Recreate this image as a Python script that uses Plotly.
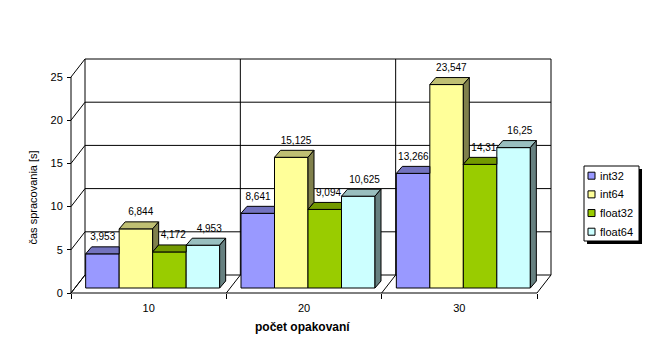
import plotly.graph_objects as go

# ---------------- data ----------------
categories = ["10", "20", "30"]
series_names = ["int32", "int64", "float32", "float64"]
int32 = [3.953, 8.641, 13.266]
int64 = [6.844, 15.125, 23.547]
float32 = [4.172, 9.094, 14.31]
float64 = [4.953, 10.625, 16.25]
y_tick_values = [0, 5, 10, 15, 20, 25]
y_title = "čas spracovania [s]"
x_title = "počet opakovaní"

series_values = [int32, int64, float32, float64]

# ---------------- style / geometry (pixels) ----------------
W, H = 649, 361
FRONT_X0 = 71          # front-left corner of the 3D box
CAT_PX = 155.33        # width of one category on the front edge
ZERO_Y = 293           # pixel row of value 0 on the front edge
UNIT_PX = 8.64         # pixels per value unit
WALL_DX, WALL_DY = 14, 18      # depth of the 3D box
BAR_OFF_DX, BAR_OFF_DY = 4, 5  # bars' front face depth offset
BAR_DX, BAR_DY = 6, 7          # bar depth
BAR_W_PX = 33.5
LABEL_GAP_PX = 1.5
LABEL_DX_PX = [0.5, 5, 4, 6.5]  # label shift (per series) from the bar's front centre
PAD = 3
FONT = "Liberation Sans, Arial, sans-serif"

front_colors = ["#9999FF", "#FFFF99", "#99CC00", "#CCFFFF"]


def shade(hex_color, f):
    h = hex_color.lstrip("#")
    r, g, b = (int(h[i:i + 2], 16) for i in (0, 2, 4))
    return "rgb(%d,%d,%d)" % (round(r * f), round(g * f), round(b * f))


top_colors = [shade(c, 0.75) for c in front_colors]
side_colors = [shade(c, 0.5) for c in front_colors]

n_cat = len(categories)
y_top = y_tick_values[-1]

box_right = FRONT_X0 + n_cat * CAT_PX + WALL_DX
box_top = ZERO_Y - y_top * UNIT_PX - WALL_DY
ML = FRONT_X0 - PAD
MR = W - box_right - PAD
MT = box_top - PAD
MB = H - ZERO_Y - PAD
PW = W - ML - MR
PH = H - MT - MB


def ux(p):
    return p / CAT_PX


def uy(p):
    return p / UNIT_PX


def paper_x(px):
    return (px - ML) / PW


def paper_y(py):
    return (H - MB - py) / PH


x_range = [-ux(PAD), ux(box_right + PAD - FRONT_X0)]
y_range = [-uy(PAD), uy(ZERO_Y - box_top + PAD)]

wdx, wdy = ux(WALL_DX), uy(WALL_DY)
bdx, bdy = ux(BAR_DX), uy(BAR_DY)
base = uy(BAR_OFF_DY)
bw = ux(BAR_W_PX)
n_ser = len(series_names)
cluster_left = ux(BAR_OFF_DX) + (1 - n_ser * bw) / 2

fig = go.Figure()
shapes = []


def line(x0, y0, x1, y1, layer="below"):
    shapes.append(dict(type="line", xref="x", yref="y", x0=x0, y0=y0, x1=x1, y1=y1,
                       line=dict(color="black", width=1), layer=layer))


# ---- walls / floor ----
for v in y_tick_values:
    line(wdx, v + wdy, n_cat + wdx, v + wdy)      # back wall gridlines
    line(0, v, wdx, v + wdy)                      # left wall diagonals
for k in range(n_cat + 1):
    line(k + wdx, wdy, k + wdx, y_top + wdy)      # back wall verticals
    line(k, 0, k + wdx, wdy)                      # floor diagonals
line(0, 0, 0, y_top)                              # front value axis
line(0, 0, n_cat, 0)                              # front category axis


def poly(pts, color):
    path = "M " + " L ".join("%.5f,%.5f" % p for p in pts) + " Z"
    shapes.append(dict(type="path", xref="x", yref="y", path=path,
                       fillcolor=color, line=dict(color="black", width=1), layer="above"))


def fmt(v):
    return ("%g" % v).replace(".", ",")


# ---- bars ----
for j, (name, vals) in enumerate(zip(series_names, series_values)):
    xs = [i + cluster_left + j * bw + bw / 2 for i in range(n_cat)]
    fig.add_trace(go.Bar(
        x=xs, y=vals, base=base, width=bw, name=name, showlegend=False,
        marker=dict(color=front_colors[j], line=dict(color="black", width=1)),
        hoverinfo="skip"))
    # label carrier (spans the top face height) -> text sits above its back edge
    fig.add_trace(go.Bar(
        x=[x + ux(LABEL_DX_PX[j]) for x in xs], y=[bdy + uy(LABEL_GAP_PX)] * n_cat,
        base=[base + v for v in vals], width=bw, showlegend=False,
        marker=dict(color="rgba(0,0,0,0)", line=dict(width=0)),
        text=[fmt(v) for v in vals], textposition="outside", textangle=0,
        constraintext="none", cliponaxis=False,
        textfont=dict(family=FONT, size=10, color="black"), hoverinfo="skip"))

    for i in range(n_cat):
        xl = i + cluster_left + j * bw
        xr = xl + bw
        top = base + vals[i]
        nxt = base + series_values[j + 1][i] if j + 1 < n_ser else base
        # top face (clipped by a taller neighbour on the right)
        if nxt <= top:
            pts = [(xl, top), (xr, top), (xr + bdx, top + bdy), (xl + bdx, top + bdy)]
        elif nxt >= top + bdy:
            pts = [(xl, top), (xr, top), (xr, top + bdy), (xl + bdx, top + bdy)]
        else:
            t = (nxt - top) / bdy
            pts = [(xl, top), (xr, top), (xr, nxt), (xr + bdx * t, nxt),
                   (xr + bdx, top + bdy), (xl + bdx, top + bdy)]
        poly(pts, top_colors[j])
        # side face (visible above the right neighbour)
        low = max(nxt, base)
        if top > low:
            poly([(xr, low), (xr, top), (xr + bdx, top + bdy), (xr + bdx, low + bdy)],
                 side_colors[j])

# ---- legend (drawn manually to match the small Excel legend box) ----
LEG_X0, LEG_Y0, LEG_X1, LEG_Y1 = 584, 166, 639, 241
SHADOW = 3
LEG_ITEM_Y0, LEG_ITEM_STEP = 175.7, 18.67
LEG_SQ_X0, LEG_SQ = 588, 7
LEG_TEXT_X = 598
shapes.append(dict(type="rect", xref="paper", yref="paper",
                   x0=paper_x(LEG_X0 + SHADOW), x1=paper_x(LEG_X1 + SHADOW),
                   y0=paper_y(LEG_Y1 + SHADOW), y1=paper_y(LEG_Y0 + SHADOW),
                   fillcolor="black", line=dict(width=0), layer="above"))
shapes.append(dict(type="rect", xref="paper", yref="paper",
                   x0=paper_x(LEG_X0), x1=paper_x(LEG_X1),
                   y0=paper_y(LEG_Y1), y1=paper_y(LEG_Y0),
                   fillcolor="white", line=dict(color="black", width=1), layer="above"))
annotations = []
for j, name in enumerate(series_names):
    cy = LEG_ITEM_Y0 + j * LEG_ITEM_STEP
    shapes.append(dict(type="rect", xref="paper", yref="paper",
                       x0=paper_x(LEG_SQ_X0), x1=paper_x(LEG_SQ_X0 + LEG_SQ),
                       y0=paper_y(cy + LEG_SQ / 2), y1=paper_y(cy - LEG_SQ / 2),
                       fillcolor=front_colors[j], line=dict(color="black", width=1),
                       layer="above"))
    annotations.append(dict(xref="paper", yref="paper", x=paper_x(LEG_TEXT_X), y=paper_y(cy),
                            text=name, showarrow=False, xanchor="left", yanchor="middle",
                            font=dict(family=FONT, size=11, color="black")))

# ---- axis titles ----
annotations.append(dict(xref="paper", yref="paper", x=paper_x(33.5), y=paper_y(197),
                        text=y_title, textangle=-90, showarrow=False,
                        xanchor="center", yanchor="middle",
                        font=dict(family=FONT, size=11, color="black")))
annotations.append(dict(xref="paper", yref="paper", x=paper_x(302), y=paper_y(327),
                        text="<b>" + x_title + "</b>", showarrow=False,
                        xanchor="center", yanchor="middle",
                        font=dict(family=FONT, size=12, color="black")))

fig.update_layout(
    width=W, height=H,
    margin=dict(l=ML, r=MR, t=MT, b=MB, pad=0),
    paper_bgcolor="white", plot_bgcolor="white",
    barmode="overlay", showlegend=False,
    font=dict(family=FONT, size=11, color="black"),
    xaxis=dict(range=x_range, anchor="free", position=paper_y(ZERO_Y),
               tickmode="array", tickvals=[k + 0.5 for k in range(n_cat)],
               ticktext=categories, ticks="", showline=False, showgrid=False,
               zeroline=False, tickfont=dict(family=FONT, size=11, color="black"),
               ticklabelstandoff=7,
               minor=dict(tickmode="array", tickvals=list(range(n_cat + 1)),
                          ticks="outside", ticklen=5, tickcolor="black", tickwidth=1,
                          showgrid=False)),
    yaxis=dict(range=y_range, anchor="free", position=paper_x(FRONT_X0),
               tickmode="array", tickvals=y_tick_values,
               ticks="outside", ticklen=4, tickcolor="black", tickwidth=1,
               showline=False, showgrid=False, zeroline=False,
               tickfont=dict(family=FONT, size=11, color="black"),
               ticklabelstandoff=2),
    shapes=shapes, annotations=annotations,
)

fig.write_html("out.html",
               config={"displayModeBar": False, "staticPlot": True},
               post_script="document.body.style.margin='0';"
                           "document.body.style.overflow='hidden';")
